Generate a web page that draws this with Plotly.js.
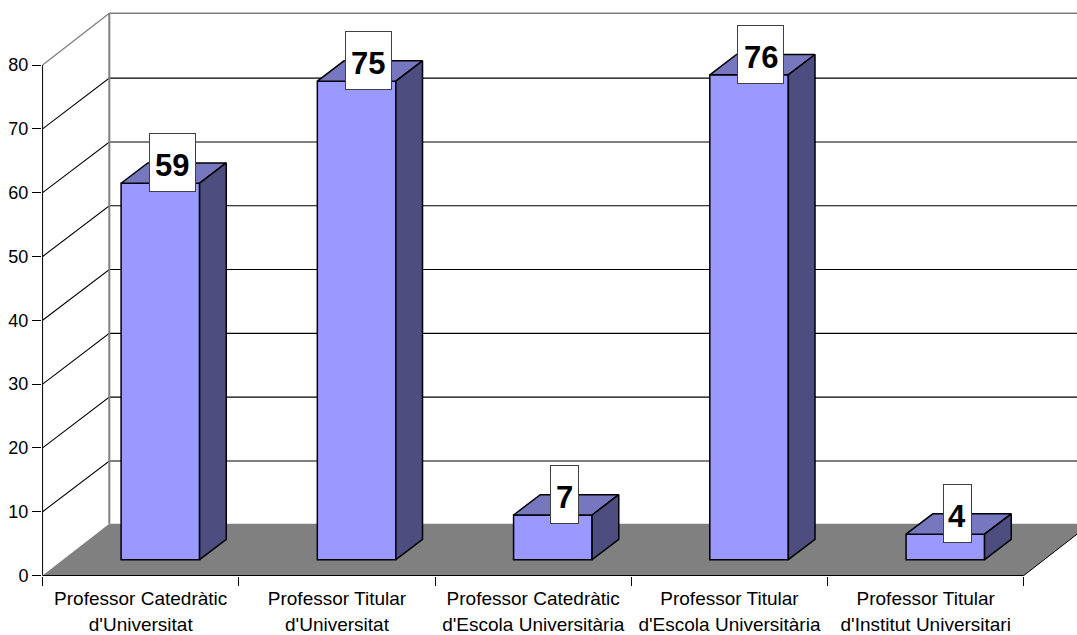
<!DOCTYPE html>
<html>
<head>
<meta charset="utf-8">
<script src="https://cdn.plot.ly/plotly-3.0.1.min.js"></script>
<style>html,body{margin:0;padding:0;background:#fff;overflow:hidden}#chart{width:1077px;height:635px}</style>
</head>
<body>
<div id="chart"></div>
<script>
const categories = ["Professor Catedràtic|d'Universitat", "Professor Titular|d'Universitat", "Professor Catedràtic|d'Escola Universitària", "Professor Titular|d'Escola Universitària", "Professor Titular|d'Institut Universitari"];
const values = [59, 75, 7, 76, 4];
const yTicks = [0, 10, 20, 30, 40, 50, 60, 70, 80];

// oblique projection constants, in axis units
const wallDx = 0.34, wallDy = 8.12, gridDy = 7.95;
const barBase = 2.48, barLeft = -0.1, barWidth = 0.4, barDx = 0.136, barDy = 3.18;
const xMin = -0.5, xMax = 4.5, yMax = 80;
const xView = [-0.503, 4.771], yView = [-0.08, 90.2];
const font = "'Liberation Sans', Arial, sans-serif";

const labels = categories.map(c => {
  const p = c.split('|');
  return p.map(s => '<span style="font-size:19px">' + s + '</span>').join('<br>');
});

function poly(xa, ya, extra) {
  return Object.assign({type: 'scatter', mode: 'lines', x: xa, y: ya, hoverinfo: 'skip', showlegend: false}, extra);
}

const traces = [];
// floor
traces.push(poly([xMin, xMin + wallDx, xMax + wallDx, xMax, xMin], [0, wallDy, wallDy, 0, 0], {fill: 'toself', fillcolor: '#808080', line: {width: 0}}));
// grid on left wall and back wall
yTicks.filter(v => v > 0 && v < yMax).forEach(v => {
  traces.push(poly([xMin, xMin + wallDx, xView[1] + 1], [v, v + gridDy, v + gridDy], {line: {color: '#000', width: 1.1}}));
});
// wall edges
traces.push(poly([xMin, xMin + wallDx], [yMax, yMax + wallDy], {line: {color: '#808080', width: 1.3}}));
traces.push(poly([xMin + wallDx, xView[1] + 1], [yMax + wallDy, yMax + wallDy], {line: {color: '#808080', width: 1.7}}));
traces.push(poly([xMin + wallDx, xMin + wallDx], [wallDy, yMax + wallDy], {line: {color: '#808080', width: 2}}));
// floor right edge
traces.push(poly([xMax, xMax + wallDx], [0, wallDy], {line: {color: '#000', width: 1}}));
// axis lines
traces.push(poly([xMin, xMin], [0, yMax], {line: {color: '#000', width: 1}}));
traces.push(poly([xMin, xMax], [0, 0], {line: {color: '#000', width: 1}}));

// bars front faces
traces.push({
  type: 'bar', xaxis: 'x2', yaxis: 'y', x: labels, y: values,
  base: barBase, offset: barLeft, width: barWidth,
  marker: {color: '#9999FF', line: {color: '#000', width: 1.5}},
  hoverinfo: 'skip', showlegend: false
});

// top and side faces
const topX = [], topY = [], sideX = [], sideY = [];
values.forEach((v, i) => {
  const l = i + barLeft, r = l + barWidth, b = barBase, t = barBase + v;
  topX.push(l, l + barDx, r + barDx, r, l, null);
  topY.push(t, t + barDy, t + barDy, t, t, null);
  sideX.push(r, r + barDx, r + barDx, r, r, null);
  sideY.push(b, b + barDy, t + barDy, t, b, null);
});
traces.push(poly(topX, topY, {xaxis: 'x3', yaxis: 'y', fill: 'toself', fillcolor: '#7777BF', line: {color: '#000', width: 1.5}}));
traces.push(poly(sideX, sideY, {xaxis: 'x3', yaxis: 'y', fill: 'toself', fillcolor: '#4D4D80', line: {color: '#000', width: 1.5}}));

const boxes = values.map((v, i) => ({
  xref: 'x3', yref: 'y', x: i + 0.16, y: barBase + v + barDy,
  text: ' ', showarrow: false, xanchor: 'center', yanchor: 'middle',
  font: {family: font, size: 31, color: '#000'},
  bgcolor: '#fff', bordercolor: '#404040', borderwidth: 1, borderpad: 0,
  width: String(v).length > 1 ? 45 : 27, height: 57
}));
const boxTexts = values.map((v, i) => ({
  xref: 'x3', yref: 'y', x: i + 0.16, y: barBase + v + barDy,
  text: '<b>' + v + '</b>', showarrow: false, xanchor: 'center', yanchor: 'middle',
  yshift: -3, font: {family: font, size: 31, color: '#000'}
}));

const hidden = {range: xView, visible: false, fixedrange: true};
const layout = {
  width: 1077, height: 635, autosize: false,
  margin: {l: 42.3, r: 0, t: 0, b: 59, pad: 0},
  paper_bgcolor: '#fff', plot_bgcolor: 'rgba(0,0,0,0)',
  showlegend: false, hovermode: false,
  font: {family: font, color: '#000'},
  xaxis: Object.assign({anchor: 'y', type: 'linear'}, hidden),
  xaxis3: Object.assign({anchor: 'y', overlaying: 'x', type: 'linear'}, hidden),
  xaxis2: {
    anchor: 'y', overlaying: 'x', type: 'category', categoryorder: 'array', categoryarray: labels,
    range: xView, tickson: 'boundaries', ticks: 'outside', ticklen: 9, tickcolor: '#000', tickwidth: 1,
    showline: false, showgrid: false, zeroline: false, ticklabelstandoff: 8,
    tickangle: 0, tickfont: {family: font, size: 20, color: '#000'}, fixedrange: true
  },
  yaxis: {
    anchor: 'x', range: yView, tickmode: 'array', tickvals: yTicks, ticktext: yTicks.map(String),
    ticks: 'outside', ticklen: 9, tickcolor: '#000', tickwidth: 1,
    showline: false, showgrid: false, zeroline: false,
    tickfont: {family: font, size: 18, color: '#000'}, fixedrange: true
  },
  annotations: boxes.concat(boxTexts)
};
Plotly.newPlot('chart', traces, layout, {displayModeBar: false, responsive: false});
</script>
</body>
</html>
